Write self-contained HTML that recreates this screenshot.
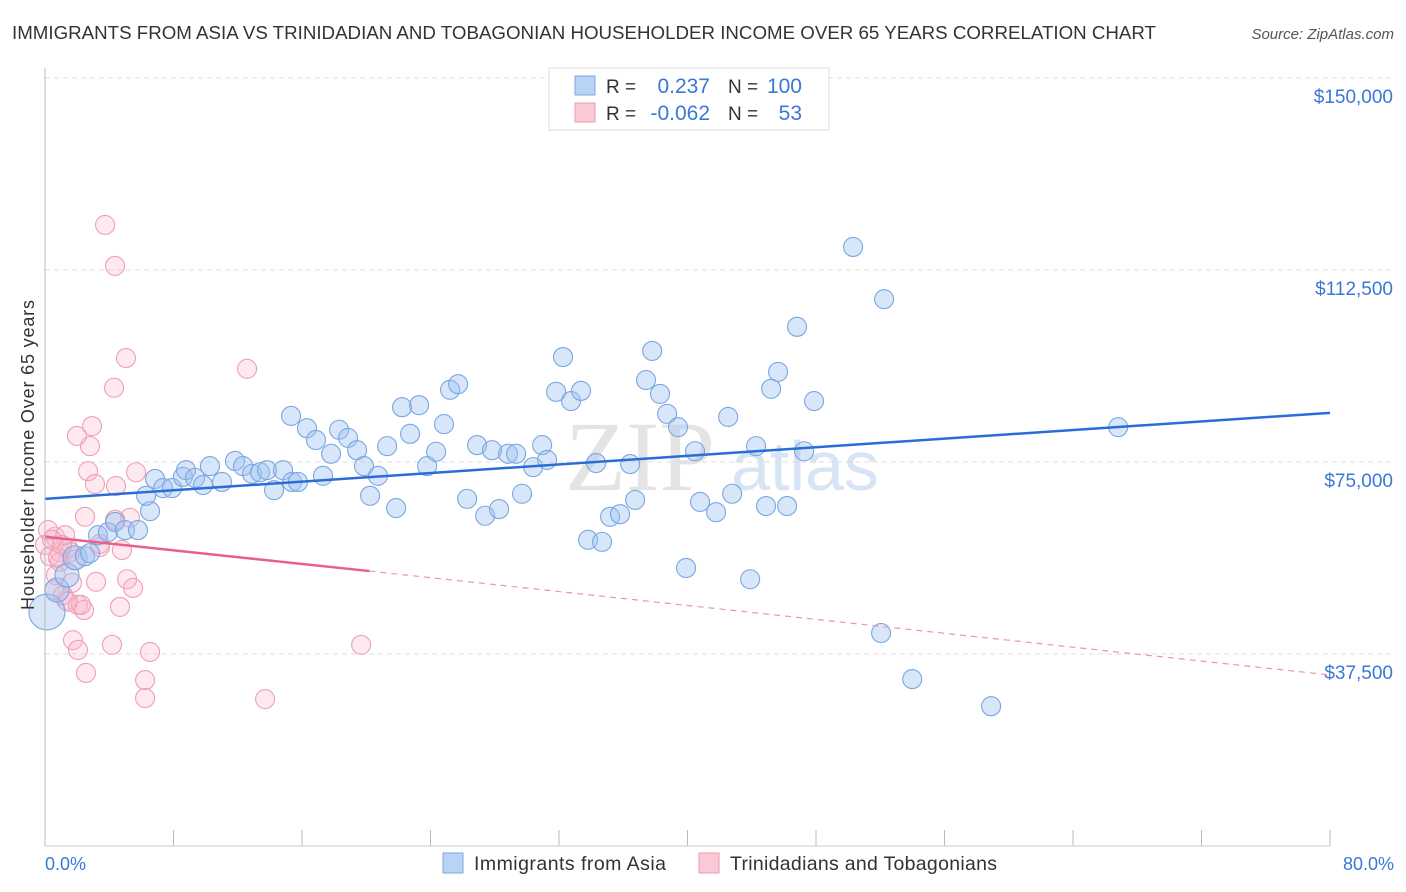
<!DOCTYPE html>
<html><head><meta charset="utf-8"><style>
body{margin:0;background:#fff;font-family:"Liberation Sans",sans-serif;}
svg{display:block}
</style></head><body>
<svg id="c" width="1406" height="892" xmlns="http://www.w3.org/2000/svg">
<text x="12" y="39" font-size="18" fill="#333" textLength="1144" lengthAdjust="spacingAndGlyphs">IMMIGRANTS FROM ASIA VS TRINIDADIAN AND TOBAGONIAN HOUSEHOLDER INCOME OVER 65 YEARS CORRELATION CHART</text>
<text x="1394" y="39" font-size="15" fill="#555" font-style="italic" text-anchor="end">Source: ZipAtlas.com</text>
<text x="640" y="490" font-size="100" fill="#e4e4e4" font-family="Liberation Serif" text-anchor="middle">ZIP</text>
<text x="805" y="490" font-size="70" fill="#d6e4f4" text-anchor="middle">atlas</text>
<g id="grid"></g><g id="pts"></g><g id="lines"></g>
<line x1="45" y1="68" x2="45" y2="846" stroke="#bbb"/>
<line x1="45" y1="846" x2="1330" y2="846" stroke="#ccc"/>
<text transform="translate(34,455) rotate(-90)" font-size="18" fill="#333" text-anchor="middle" textLength="310">Householder Income Over 65 years</text>
<text x="45" y="870" font-size="18" fill="#3a78d4">0.0%</text>
<text x="1394" y="870" font-size="18" fill="#3a78d4" text-anchor="end">80.0%</text>
<g>
<rect x="549" y="68" width="280" height="62" fill="#fff" stroke="#ddd"/>
<rect x="575" y="76" width="20" height="19" fill="#b8d3f4" stroke="#7aa8e6"/>
<rect x="575" y="103" width="20" height="19" fill="#fbc8d6" stroke="#eb9ab3"/>
<text x="606" y="93" font-size="19" fill="#333">R =</text><text x="710" y="93" font-size="21" fill="#3a78d4" text-anchor="end">0.237</text>
<text x="728" y="93" font-size="19" fill="#333">N =</text><text x="802" y="93" font-size="21" fill="#3a78d4" text-anchor="end">100</text>
<text x="606" y="120" font-size="19" fill="#333">R =</text><text x="710" y="120" font-size="21" fill="#3a78d4" text-anchor="end">-0.062</text>
<text x="728" y="120" font-size="19" fill="#333">N =</text><text x="802" y="120" font-size="21" fill="#3a78d4" text-anchor="end">53</text>
</g>
<g><rect x="443" y="853" width="20" height="20" fill="#b8d3f4" stroke="#7aa8e6"/><text x="474" y="870" font-size="19.5" fill="#333" textLength="192">Immigrants from Asia</text></g>
<g><rect x="699" y="853" width="20" height="20" fill="#fbc8d6" stroke="#eb9ab3"/><text x="730" y="870" font-size="19.5" fill="#333" textLength="267">Trinidadians and Tobagonians</text></g>
</svg>
<script>
const yTicks=[37.5,75,112.5,150];
const yTickLabels=["$37,500","$75,000","$112,500","$150,000"];
const xTicks=[0,8,16,24,32,40,48,56,64,72,80];
const blueX=[0.12,0.75,1.37,1.87,2.49,2.8,3.3,3.92,4.36,4.98,5.79,6.54,6.29,6.85,7.35,7.91,8.59,8.78,9.34,9.84,10.27,11.02,11.83,12.33,12.89,13.39,13.82,14.26,14.82,15.38,15.75,15.32,16.31,16.87,17.81,17.31,18.31,18.87,19.43,19.86,20.24,20.73,21.3,21.86,22.23,22.73,23.29,23.79,24.35,24.84,25.22,25.72,26.28,26.9,27.4,27.83,28.27,28.83,29.33,29.7,30.39,30.95,31.26,31.82,32.25,32.75,33.37,33.81,34.31,34.68,35.18,35.8,36.43,36.74,37.42,37.8,38.29,38.73,39.41,39.91,40.47,40.78,41.78,42.53,42.78,43.9,44.27,44.89,45.21,45.64,46.2,46.82,47.26,47.88,50.31,52.05,52.24,53.99,58.9,66.81];
const blueY=[45.7,50.0,52.9,56.3,56.6,57.2,60.7,61.3,63.3,61.7,61.7,65.4,68.4,71.7,69.9,69.9,72.1,73.4,71.9,70.5,74.2,71.1,75.2,74.2,72.7,73.0,73.4,69.5,73.4,71.1,71.1,84.0,81.6,79.3,76.6,72.3,81.3,79.7,77.3,74.2,68.4,72.3,78.1,66.0,85.7,80.5,86.1,74.2,77.0,82.4,89.1,90.2,67.8,78.3,64.5,77.3,65.8,76.6,76.6,68.8,74.0,78.3,75.4,88.7,95.5,86.9,88.9,59.8,74.8,59.4,64.3,64.8,74.6,67.6,91.0,96.7,88.3,84.4,81.8,54.3,77.1,67.2,65.2,83.8,68.8,52.1,78.1,66.4,89.3,92.6,66.4,101.4,77.1,86.9,117.0,41.6,106.8,32.6,27.3,81.8];
const pinkX=[3.74,4.36,5.04,4.3,12.58,1.99,2.93,2.8,2.68,3.11,4.42,5.67,2.49,5.29,3.42,4.79,0.93,0.62,0,0.31,0.93,1.43,1.25,0.19,1.56,0.68,1.68,3.18,5.11,5.48,1.31,2.05,2.43,2.24,4.67,0.56,1.74,2.05,4.17,6.54,2.55,6.23,6.23,13.7,19.68,1.12,0.81,0.44,1.87,1.43,3.42,4.36,1.06];
const pinkY=[121.3,113.3,95.3,89.5,93.2,80.1,82.0,78.1,73.2,70.7,70.3,73.0,64.3,64.1,58.4,57.8,57.4,60.4,58.8,56.6,55.5,58.2,60.7,61.7,57.4,52.9,51.4,51.6,52.1,50.4,48.0,47.1,46.1,47.1,46.7,50.0,40.2,38.3,39.3,37.9,33.8,32.4,28.9,28.7,39.3,49.0,56.3,59.8,55.9,47.7,59.0,63.7,58.8];
const blueTrend=[67.8,84.6];
const pinkTrend=[60.4,53.7,33.4];
const pinkSolidEnd=20.2;
const X=v=>45+v*1285/80, Y=v=>846-v*192/37.5;
const NS="http://www.w3.org/2000/svg";
function mk(t,a,p){const e=document.createElementNS(NS,t);for(const k in a)e.setAttribute(k,a[k]);p.appendChild(e);return e;}
const g=document.getElementById('grid');
yTicks.forEach((t,i)=>{
 const l=mk('line',{x1:45,x2:1395,y1:Y(t),y2:Y(t),stroke:'#ddd','stroke-dasharray':'5,4'},g);
 
 
 const tx=mk('text',{x:1393,y:Y(t)+25,'font-size':19,fill:'#3a78d4','text-anchor':'end'},g);
 tx.textContent=yTickLabels[i];
 
 
});
xTicks.forEach(t=>{
 const l=mk('line',{x1:X(t),x2:X(t),y1:830,y2:846,stroke:'#bbb'},g);
 
 
});
const p=document.getElementById('pts');
pinkX.forEach((x,i)=>{
 const c=mk('circle',{cx:X(x),cy:Y(pinkY[i]),r:9.5,fill:'rgba(248,182,202,0.3)',stroke:'#ef9fb8','stroke-width':1.1},p);
 
 
});
blueX.forEach((x,i)=>{
 const c=mk('circle',{cx:X(x),cy:Y(blueY[i]),r:i==0?18:(i<4?12:9.5),fill:'rgba(160,196,240,0.42)',stroke:'#7aa6e2','stroke-width':1.1},p);
 
 
});
const L=document.getElementById('lines');
let b=mk('line',{x1:X(0),y1:Y(blueTrend[0]),x2:X(80),y2:Y(blueTrend[1]),stroke:'#2a6dd6','stroke-width':2.5},L);


let q=mk('line',{x1:X(0),y1:Y(pinkTrend[0]),x2:X(pinkSolidEnd),y2:Y(pinkTrend[1]),stroke:'#e8608a','stroke-width':2.5},L);


let d=mk('line',{x1:X(pinkSolidEnd),y1:Y(pinkTrend[1]),x2:X(80),y2:Y(pinkTrend[2]),stroke:'#eb94b0','stroke-width':1.2,'stroke-dasharray':'6,5'},L);


</script>
</body></html>
